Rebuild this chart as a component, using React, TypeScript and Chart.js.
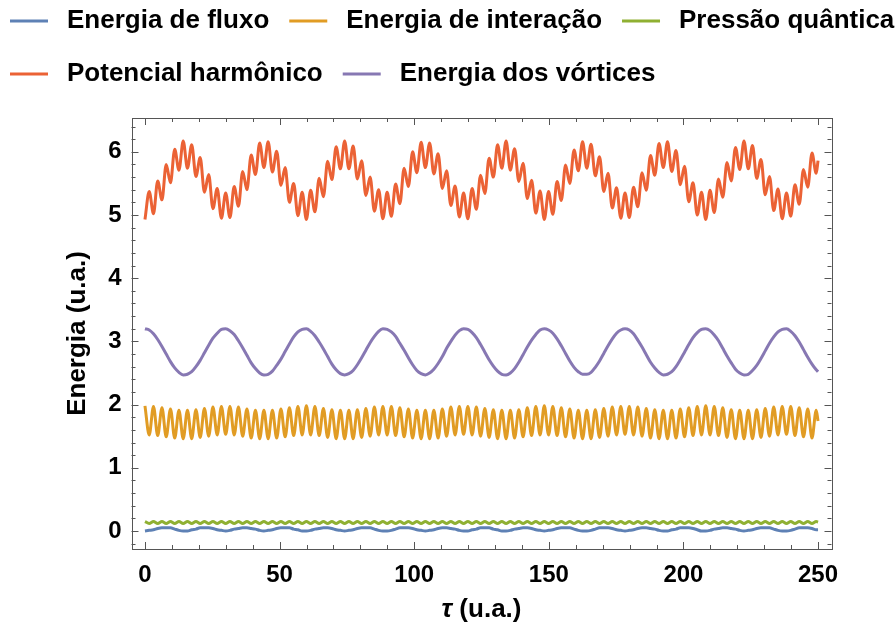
import React, { useEffect, useRef } from "react";
import { Chart, registerables } from "chart.js";

Chart.register(...registerables);

// sample times (tau, u.a.)
const tau = [
  0, 1.58, 3.16, 4.73, 6.31, 7.89, 9.47, 11.05, 12.62, 14.2,
  15.78, 17.36, 18.94, 20.51, 22.09, 23.67, 25.25, 26.83, 28.4, 29.98,
  31.56, 33.14, 34.72, 36.29, 37.87, 39.45, 41.03, 42.61, 44.18, 45.76,
  47.34, 48.92, 50.5, 52.07, 53.65, 55.23, 56.81, 58.39, 59.96, 61.54,
  63.12, 64.7, 66.28, 67.85, 69.43, 71.01, 72.59, 74.17, 75.74, 77.32,
  78.9, 80.48, 82.06, 83.63, 85.21, 86.79, 88.37, 89.95, 91.52, 93.1,
  94.68, 96.26, 97.84, 99.41, 100.99, 102.57, 104.15, 105.73, 107.3, 108.88,
  110.46, 112.04, 113.62, 115.19, 116.77, 118.35, 119.93, 121.51, 123.08, 124.66,
  126.24, 127.82, 129.4, 130.97, 132.55, 134.13, 135.71, 137.29, 138.86, 140.44,
  142.02, 143.6, 145.18, 146.75, 148.33, 149.91, 151.49, 153.07, 154.64, 156.22,
  157.8, 159.38, 160.96, 162.53, 164.11, 165.69, 167.27, 168.85, 170.42, 172.0,
  173.58, 175.16, 176.74, 178.31, 179.89, 181.47, 183.05, 184.63, 186.2, 187.78,
  189.36, 190.94, 192.52, 194.09, 195.67, 197.25, 198.83, 200.41, 201.98, 203.56,
  205.14, 206.72, 208.3, 209.87, 211.45, 213.03, 214.61, 216.19, 217.76, 219.34,
  220.92, 222.5, 224.08, 225.65, 227.23, 228.81, 230.39, 231.97, 233.54, 235.12,
  236.7, 238.28, 239.86, 241.43, 243.01, 244.59, 246.17, 247.75, 249.32, 250,
];

const energiaFluxo = [
  0.00, 0.01, 0.02, 0.04, 0.05, 0.05, 0.05, 0.03, 0.01, 0.00,
  0.00, 0.02, 0.03, 0.05, 0.05, 0.05, 0.04, 0.02, 0.01, 0.00,
  0.01, 0.03, 0.04, 0.05, 0.05, 0.04, 0.03, 0.01, 0.00, 0.01,
  0.02, 0.04, 0.05, 0.05, 0.05, 0.03, 0.02, 0.00, 0.00, 0.01,
  0.03, 0.04, 0.05, 0.05, 0.04, 0.02, 0.01, 0.00, 0.01, 0.02,
  0.04, 0.05, 0.05, 0.05, 0.03, 0.01, 0.00, 0.00, 0.01, 0.03,
  0.05, 0.05, 0.05, 0.04, 0.02, 0.01, 0.00, 0.01, 0.02, 0.04,
  0.05, 0.05, 0.04, 0.03, 0.01, 0.00, 0.00, 0.02, 0.03, 0.05,
  0.05, 0.05, 0.03, 0.02, 0.00, 0.00, 0.01, 0.03, 0.04, 0.05,
  0.05, 0.04, 0.02, 0.01, 0.00, 0.01, 0.02, 0.04, 0.05, 0.05,
  0.05, 0.03, 0.01, 0.00, 0.00, 0.01, 0.03, 0.05, 0.05, 0.05,
  0.04, 0.02, 0.01, 0.00, 0.01, 0.02, 0.04, 0.05, 0.05, 0.04,
  0.03, 0.01, 0.00, 0.00, 0.02, 0.03, 0.05, 0.05, 0.05, 0.04,
  0.02, 0.00, 0.00, 0.01, 0.03, 0.04, 0.05, 0.05, 0.04, 0.03,
  0.01, 0.00, 0.01, 0.02, 0.04, 0.05, 0.05, 0.05, 0.03, 0.01,
  0.00, 0.00, 0.01, 0.03, 0.05, 0.05, 0.05, 0.04, 0.02, 0.02,
];

const energiaInteracao = [
  1.98, 1.52, 1.97, 1.51, 1.95, 1.49, 1.93, 1.47, 1.91, 1.46,
  1.91, 1.46, 1.92, 1.48, 1.94, 1.50, 1.96, 1.52, 1.97, 1.53,
  1.97, 1.52, 1.96, 1.50, 1.93, 1.47, 1.91, 1.46, 1.91, 1.46,
  1.91, 1.47, 1.93, 1.49, 1.95, 1.51, 1.97, 1.52, 1.98, 1.52,
  1.97, 1.51, 1.94, 1.48, 1.92, 1.46, 1.91, 1.46, 1.91, 1.46,
  1.92, 1.48, 1.94, 1.50, 1.96, 1.52, 1.97, 1.52, 1.97, 1.51,
  1.95, 1.49, 1.93, 1.47, 1.91, 1.46, 1.91, 1.46, 1.91, 1.47,
  1.93, 1.50, 1.96, 1.52, 1.97, 1.53, 1.97, 1.52, 1.96, 1.50,
  1.94, 1.48, 1.92, 1.46, 1.91, 1.46, 1.91, 1.47, 1.92, 1.49,
  1.95, 1.51, 1.97, 1.52, 1.98, 1.52, 1.97, 1.51, 1.95, 1.49,
  1.93, 1.47, 1.91, 1.46, 1.91, 1.46, 1.92, 1.48, 1.94, 1.50,
  1.96, 1.52, 1.97, 1.53, 1.97, 1.52, 1.96, 1.50, 1.94, 1.47,
  1.92, 1.46, 1.91, 1.46, 1.91, 1.47, 1.93, 1.49, 1.95, 1.51,
  1.97, 1.52, 1.98, 1.52, 1.97, 1.51, 1.95, 1.48, 1.92, 1.46,
  1.91, 1.46, 1.91, 1.46, 1.92, 1.48, 1.94, 1.50, 1.96, 1.52,
  1.97, 1.53, 1.97, 1.51, 1.95, 1.49, 1.93, 1.47, 1.91, 1.74,
];

const pressaoQuantica = [
  0.15, 0.12, 0.15, 0.12, 0.15, 0.12, 0.15, 0.12, 0.15, 0.12,
  0.15, 0.12, 0.15, 0.12, 0.15, 0.12, 0.15, 0.12, 0.15, 0.12,
  0.15, 0.12, 0.15, 0.12, 0.15, 0.12, 0.15, 0.12, 0.15, 0.12,
  0.15, 0.12, 0.15, 0.12, 0.15, 0.12, 0.15, 0.12, 0.15, 0.12,
  0.15, 0.12, 0.15, 0.12, 0.15, 0.12, 0.15, 0.12, 0.15, 0.12,
  0.15, 0.12, 0.15, 0.12, 0.15, 0.12, 0.15, 0.12, 0.15, 0.12,
  0.15, 0.12, 0.15, 0.12, 0.15, 0.12, 0.15, 0.12, 0.15, 0.12,
  0.15, 0.12, 0.15, 0.12, 0.15, 0.12, 0.15, 0.12, 0.15, 0.12,
  0.15, 0.12, 0.15, 0.12, 0.15, 0.12, 0.15, 0.12, 0.15, 0.12,
  0.15, 0.12, 0.15, 0.12, 0.15, 0.12, 0.15, 0.12, 0.15, 0.12,
  0.15, 0.12, 0.15, 0.12, 0.15, 0.12, 0.15, 0.12, 0.15, 0.12,
  0.15, 0.12, 0.15, 0.12, 0.15, 0.12, 0.15, 0.12, 0.15, 0.12,
  0.15, 0.12, 0.15, 0.12, 0.15, 0.12, 0.15, 0.12, 0.15, 0.12,
  0.15, 0.12, 0.15, 0.12, 0.15, 0.12, 0.15, 0.12, 0.15, 0.12,
  0.15, 0.12, 0.15, 0.12, 0.15, 0.12, 0.15, 0.12, 0.15, 0.12,
  0.15, 0.12, 0.15, 0.12, 0.15, 0.12, 0.15, 0.12, 0.15, 0.14,
];

const potencialHarmonico = [
  4.93, 5.37, 5.02, 5.54, 5.24, 5.80, 5.51, 6.04, 5.71, 6.17,
  5.74, 6.11, 5.61, 5.91, 5.36, 5.64, 5.10, 5.42, 4.95, 5.35,
  4.96, 5.45, 5.14, 5.69, 5.40, 5.95, 5.64, 6.14, 5.75, 6.16,
  5.68, 6.01, 5.47, 5.75, 5.20, 5.50, 4.99, 5.36, 4.93, 5.39,
  5.05, 5.58, 5.29, 5.85, 5.56, 6.08, 5.73, 6.17, 5.73, 6.09,
  5.57, 5.86, 5.31, 5.60, 5.06, 5.40, 4.94, 5.36, 4.98, 5.49,
  5.18, 5.74, 5.45, 6.00, 5.67, 6.15, 5.75, 6.14, 5.65, 5.97,
  5.42, 5.70, 5.15, 5.46, 4.97, 5.35, 4.94, 5.42, 5.09, 5.63,
  5.34, 5.90, 5.60, 6.11, 5.74, 6.17, 5.71, 6.05, 5.53, 5.82,
  5.26, 5.55, 5.03, 5.38, 4.93, 5.37, 5.01, 5.53, 5.23, 5.79,
  5.50, 6.03, 5.70, 6.16, 5.74, 6.12, 5.62, 5.92, 5.37, 5.66,
  5.11, 5.43, 4.95, 5.35, 4.96, 5.44, 5.13, 5.67, 5.39, 5.94,
  5.63, 6.13, 5.75, 6.16, 5.69, 6.02, 5.48, 5.77, 5.21, 5.51,
  5.00, 5.36, 4.93, 5.39, 5.04, 5.57, 5.28, 5.83, 5.54, 6.07,
  5.72, 6.17, 5.73, 6.10, 5.58, 5.88, 5.32, 5.61, 5.07, 5.41,
  4.94, 5.35, 4.98, 5.48, 5.17, 5.72, 5.44, 5.98, 5.66, 5.86,
];

const energiaVortices = [
  3.20, 3.18, 3.12, 3.03, 2.92, 2.80, 2.68, 2.58, 2.51, 2.47,
  2.48, 2.52, 2.60, 2.70, 2.82, 2.94, 3.05, 3.13, 3.19, 3.20,
  3.17, 3.11, 3.01, 2.90, 2.78, 2.66, 2.57, 2.50, 2.47, 2.48,
  2.53, 2.62, 2.72, 2.84, 2.96, 3.07, 3.15, 3.19, 3.20, 3.16,
  3.09, 2.99, 2.88, 2.76, 2.64, 2.55, 2.49, 2.47, 2.49, 2.54,
  2.63, 2.74, 2.86, 2.98, 3.08, 3.16, 3.20, 3.19, 3.15, 3.08,
  2.97, 2.86, 2.74, 2.63, 2.54, 2.49, 2.47, 2.50, 2.56, 2.65,
  2.76, 2.89, 3.00, 3.10, 3.17, 3.20, 3.19, 3.14, 3.06, 2.95,
  2.83, 2.71, 2.61, 2.53, 2.48, 2.47, 2.50, 2.57, 2.67, 2.79,
  2.91, 3.02, 3.11, 3.18, 3.20, 3.18, 3.13, 3.04, 2.93, 2.81,
  2.69, 2.59, 2.52, 2.48, 2.48, 2.51, 2.59, 2.69, 2.81, 2.93,
  3.04, 3.13, 3.18, 3.20, 3.18, 3.12, 3.02, 2.91, 2.79, 2.67,
  2.58, 2.51, 2.47, 2.48, 2.52, 2.60, 2.71, 2.83, 2.95, 3.06,
  3.14, 3.19, 3.20, 3.17, 3.10, 3.01, 2.89, 2.77, 2.66, 2.56,
  2.50, 2.47, 2.48, 2.54, 2.62, 2.73, 2.85, 2.97, 3.07, 3.15,
  3.19, 3.20, 3.16, 3.09, 2.99, 2.87, 2.75, 2.64, 2.55, 2.52,
];

const seriesNames = [
  "Energia de fluxo",
  "Energia de interação",
  "Pressão quântica",
  "Potencial harmônico",
  "Energia dos vórtices",
];
const seriesValues = [energiaFluxo, energiaInteracao, pressaoQuantica, potencialHarmonico, energiaVortices];
const seriesColors = ["#5E81B5", "#E19C24", "#8FB032", "#EB6235", "#8778B3"];

const xTickValues = [0, 50, 100, 150, 200, 250];
const xMinorTicks = [10, 20, 30, 40, 60, 70, 80, 90, 110, 120, 130, 140, 160, 170, 180, 190, 210, 220, 230, 240];
const yTickValues = [0, 1, 2, 3, 4, 5, 6];
const yMinorTicks = [
  -0.2, 0.2, 0.4, 0.6, 0.8, 1.2, 1.4, 1.6, 1.8, 2.2, 2.4, 2.6, 2.8, 3.2, 3.4, 3.6, 3.8,
  4.2, 4.4, 4.6, 4.8, 5.2, 5.4, 5.6, 5.8, 6.2, 6.4,
];

const xTitle = "(u.a.)";
const xTitleSymbol = "τ";
const yTitle = "Energia (u.a.)";

const FONT = "'Liberation Sans', Arial, Helvetica, sans-serif";
const FRAME = "#555555";

const framePlugin = {
  id: "mmaFrame",
  afterDraw(chart: any) {
    const { ctx, chartArea } = chart;
    const xs = chart.scales.x;
    const ys = chart.scales.y;
    const { left, right, top, bottom } = chartArea;
    ctx.save();
    ctx.strokeStyle = FRAME;
    ctx.lineWidth = 1;
    ctx.strokeRect(Math.round(left) + 0.5, Math.round(top) + 0.5, Math.round(right - left), Math.round(bottom - top));
    const major = 7;
    const minor = 4;
    ctx.beginPath();
    const vtick = (v: number, len: number) => {
      const px = Math.round(xs.getPixelForValue(v)) + 0.5;
      ctx.moveTo(px, bottom);
      ctx.lineTo(px, bottom - len);
      ctx.moveTo(px, top);
      ctx.lineTo(px, top + len);
    };
    const htick = (v: number, len: number) => {
      const py = Math.round(ys.getPixelForValue(v)) + 0.5;
      ctx.moveTo(left, py);
      ctx.lineTo(left + len, py);
      ctx.moveTo(right, py);
      ctx.lineTo(right - len, py);
    };
    xTickValues.forEach((v) => vtick(v, major));
    xMinorTicks.forEach((v) => vtick(v, minor));
    yTickValues.forEach((v) => htick(v, major));
    yMinorTicks.forEach((v) => htick(v, minor));
    ctx.stroke();

    // axis titles
    ctx.fillStyle = "#000";
    ctx.textBaseline = "middle";
    ctx.font = `bold 26px ${FONT}`;
    ctx.save();
    ctx.translate(78, (top + bottom) / 2);
    ctx.rotate(-Math.PI / 2);
    ctx.textAlign = "center";
    ctx.fillText(yTitle, 0, 0);
    ctx.restore();

    const cx = (left + right) / 2;
    ctx.font = `italic bold 26px ${FONT}`;
    const wSym = ctx.measureText(xTitleSymbol + " ").width;
    ctx.font = `bold 26px ${FONT}`;
    const wRest = ctx.measureText(xTitle).width;
    const startX = cx - (wSym + wRest) / 2;
    ctx.textAlign = "left";
    ctx.font = `italic bold 26px ${FONT}`;
    ctx.fillText(xTitleSymbol, startX, 610);
    ctx.font = `bold 26px ${FONT}`;
    ctx.fillText(xTitle, startX + wSym, 610);

    // legend
    ctx.font = `bold 26px ${FONT}`;
    const rowY = [21, 74];
    const lineLen = 38;
    const gapText = 19;
    const gapItem = 20;
    let row = 0;
    let x = 10;
    seriesNames.forEach((name, i) => {
      const w = lineLen + gapText + ctx.measureText(name).width;
      if (x + w > 896 && x > 10) {
        row += 1;
        x = 10;
      }
      const y = rowY[row];
      ctx.strokeStyle = seriesColors[i];
      ctx.lineWidth = 3;
      ctx.beginPath();
      ctx.moveTo(x, y);
      ctx.lineTo(x + lineLen, y);
      ctx.stroke();
      ctx.fillStyle = "#000";
      ctx.textAlign = "left";
      ctx.textBaseline = "middle";
      ctx.fillText(name, x + lineLen + gapText, y);
      x += w + gapItem;
    });
    ctx.restore();
  },
};

export default function App() {
  const ref = useRef<HTMLCanvasElement>(null);
  useEffect(() => {
    const canvas = ref.current;
    if (!canvas) return;
    const order = [5, 4, 3, 2, 1];
    const datasets = seriesNames.map((name, i) => ({
      label: name,
      data: tau.map((t, j) => ({ x: t, y: seriesValues[i][j] })),
      borderColor: seriesColors[i],
      backgroundColor: seriesColors[i],
      borderWidth: 3,
      pointRadius: 0,
      fill: false,
      cubicInterpolationMode: "monotone" as const,
      order: order[i],
    }));
    const tickFont = { family: FONT, size: 24, weight: "bold" as const };
    const chart = new Chart(canvas, {
      type: "line",
      data: { datasets },
      options: {
        animation: false,
        responsive: false,
        devicePixelRatio: 1,
        events: [],
        layout: { padding: { top: 118, right: 64.5, left: 0, bottom: 0 } },
        plugins: { legend: { display: false }, tooltip: { enabled: false }, title: { display: false } },
        scales: {
          x: {
            type: "linear",
            min: -5,
            max: 255,
            afterBuildTicks: (s: any) => {
              s.ticks = xTickValues.map((v) => ({ value: v }));
            },
            afterFit: (s: any) => {
              s.height = 87;
            },
            grid: { display: false, drawTicks: false },
            border: { display: false },
            ticks: {
              font: tickFont,
              color: "#000",
              padding: 12,
              maxRotation: 0,
              autoSkip: false,
              callback: (v: any) => String(v),
            },
          },
          y: {
            type: "linear",
            min: -0.285,
            max: 6.535,
            afterBuildTicks: (s: any) => {
              s.ticks = yTickValues.map((v) => ({ value: v }));
            },
            afterFit: (s: any) => {
              s.width = 131.5;
            },
            grid: { display: false, drawTicks: false },
            border: { display: false },
            ticks: {
              font: tickFont,
              color: "#000",
              padding: 10,
              autoSkip: false,
              callback: (v: any) => String(v),
            },
          },
        },
      },
      plugins: [framePlugin],
    });
    return () => chart.destroy();
  }, []);
  return (
    <div style={{ position: "absolute", left: 0, top: 0, width: 896, height: 636, background: "#fff" }}>
      <canvas ref={ref} width={896} height={636} style={{ width: 896, height: 636, display: "block" }} />
    </div>
  );
}
